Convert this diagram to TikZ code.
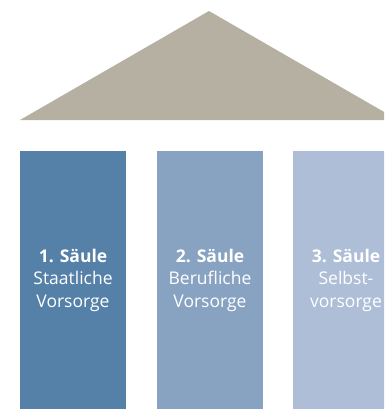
\documentclass[tikz,border=0pt]{standalone}
\usepackage{fontspec}
\setmainfont{Open Sans}
\definecolor{roof}{HTML}{B5B0A2}
\definecolor{pA}{HTML}{5581A8}
\definecolor{pB}{HTML}{88A2C2}
\definecolor{pC}{HTML}{AEBED7}
\tikzset{
  pillar/.style={fill=#1, draw=none},
  label/.style={text=white, align=center, font=\fontsize{17.5}{22.5}\selectfont, inner sep=0pt}
}
\begin{document}
\begin{tikzpicture}[x=1pt,y=-1pt]
\useasboundingbox (0,0) rectangle (384,409);
\begin{scope}
\clip (0,0) rectangle (384,409);
\fill[roof] (20,120) -- (209,11) -- (398,120) -- cycle;
\fill[pillar=pA] (20,151) rectangle (126,409);
\fill[pillar=pB] (157,151) rectangle (263,409);
\fill[pillar=pC] (293,151) rectangle (399,409);
\node[label] (t1) at (73,280) {\textbf{1. Säule}\\Staatliche\\Vorsorge};
\node[label] (t2) at (210,280) {\textbf{2. Säule}\\Berufliche\\Vorsorge};
\node[label] (t3) at (346,280) {\textbf{3. Säule}\\Selbst-\\vorsorge};
\end{scope}
\end{tikzpicture}
\end{document}
